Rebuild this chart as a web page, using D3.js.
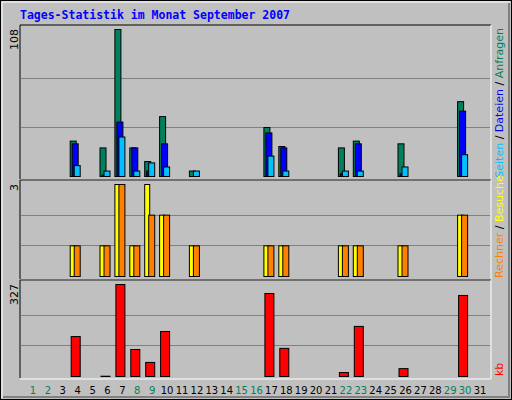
<!DOCTYPE html>
<html><head><meta charset="utf-8">
<script src="https://cdn.jsdelivr.net/npm/d3@7"></script>
<style>body{margin:0;background:#fff}</style>
</head><body>
<script>
// data
var days = d3.range(1, 32);
var weekend = [1, 2, 8, 9, 15, 16, 22, 23, 29, 30];
var anfragen = [0,0,0,26,0,21,108,21,11,44,0,4,0,0,0,0,36,22,0,0,0,21,26,0,0,24,0,0,0,55,0];
var dateien  = [0,0,0,24,0,1,40,21,4,24,0,0,0,0,0,0,32,21,0,0,0,2,24,0,0,2,0,0,0,48,0];
var seiten   = [0,0,0,8,0,4,29,4,10,7,0,4,0,0,0,0,15,4,0,0,0,4,4,0,0,7,0,0,0,16,0];
var besuche  = [0,0,0,1,0,1,3,1,3,2,0,1,0,0,0,0,1,1,0,0,0,1,1,0,0,1,0,0,0,2,0];
var rechner  = [0,0,0,1,0,1,3,1,2,2,0,1,0,0,0,0,1,1,0,0,0,1,1,0,0,1,0,0,0,2,0];
var kb       = [0,0,0,142,0,1,327,96,50,160,0,0,0,0,0,0,295,100,0,0,0,14,178,0,0,28,0,0,0,288,0];

var svg = d3.select("body").append("svg").attr("width", 512).attr("height", 400);
svg.append("rect").attr("x", 0.5).attr("y", 0.5).attr("width", 511).attr("height", 399)
  .attr("fill", "#c0c0c0").attr("stroke", "#000");
svg.append("path").attr("d", "M2,398V2H510").attr("fill", "none").attr("stroke", "#fff");
svg.append("path").attr("d", "M3,397H509V3").attr("fill", "none").attr("stroke", "#808080").attr("stroke-width", 2);

svg.append("text").attr("x", 20).attr("y", 19).text("Tages-Statistik im Monat September 2007")
  .attr("font-family", "DejaVu Sans Mono").attr("font-weight", "bold").attr("font-size", 11.5).attr("fill", "#0000ff");

// day positions (label centre)
var x = d3.scaleLinear().domain([1, 31]).range([33, 480]);

var font = "DejaVu Sans";
function panel(y0, y1, top, maxLabel) {
  svg.append("path").attr("d", "M20," + y1 + "V" + y0 + "H491").attr("fill", "none").attr("stroke", "#000");
  svg.append("path").attr("d", "M20," + (y1 + 1) + "H491V" + y0).attr("fill", "none").attr("stroke", "#fff");
  svg.append("text").attr("transform", "translate(18," + top + ") rotate(-90)")
    .attr("text-anchor", "end").attr("font-family", font).attr("font-size", 11).text(maxLabel);
}

function bars(vals, y, offset, w, color) {
  svg.selectAll(null).data(days.filter(function(d) { return vals[d - 1] > 0; })).enter()
    .append("rect")
    .attr("x", function(d) { return x(d) + offset + 0.5; })
    .attr("y", function(d) { return y(vals[d - 1]) + 0.5; })
    .attr("width", w)
    .attr("height", function(d) { return Math.max(0, y(0) - y(vals[d - 1])); })
    .attr("fill", color).attr("stroke", "#000");
}

function grid(y, max) {
  [1, 2].forEach(function(i) {
    var gy = Math.round(y(max * i / 3)) + 0.5;
    svg.append("line").attr("x1", 21).attr("x2", 490).attr("y1", gy).attr("y2", gy).attr("stroke", "#808080");
  });
}

// top panel
var y1 = d3.scaleLinear().domain([0, 108]).range([176, 29]);
panel(25, 179, 29, "108");
grid(y1, 108);
bars(anfragen, y1, -8, 6, "#00805c");
bars(dateien, y1, -6, 6, "#0000ff");
bars(seiten, y1, -4, 6, "#00c0ff");

// middle panel
var y2 = d3.scaleLinear().domain([0, 3]).range([276, 184]);
panel(180, 279, 184, "3");
grid(y2, 3);
bars(besuche, y2, -8, 5, "#ffff00");
bars(rechner, y2, -4, 6, "#ff8000");

// bottom panel
var y3 = d3.scaleLinear().domain([0, 327]).range([376, 284]);
panel(280, 378, 284, "327");
grid(y3, 327);
bars(kb, y3, -7, 9, "#ff0000");

// day labels
svg.selectAll(null).data(days).enter().append("text")
  .attr("x", function(d) { return x(d); }).attr("y", 394)
  .attr("text-anchor", "middle").attr("font-family", font).attr("font-size", 10)
  .attr("fill", function(d) { return weekend.indexOf(d) >= 0 ? "#00805c" : "#000"; })
  .text(function(d) { return d; });

// right side legends
function legend(yStart, anchor, parts) {
  var t = svg.append("text").attr("transform", "translate(503," + yStart + ") rotate(-90)")
    .attr("text-anchor", anchor).attr("font-family", font).attr("font-size", 11);
  parts.forEach(function(p) { t.append("tspan").attr("fill", p[1]).text(p[0]); });
}
legend(28, "end", [["Seiten", "#00c0ff"], [" / ", "#000"], ["Dateien", "#0000ff"], [" / ", "#000"], ["Anfragen", "#00805c"]]);
legend(278, "start", [["Rechner", "#ff8000"], [" / ", "#000"], ["Besuche", "#ffff00"]]);
legend(376, "start", [["kb", "#ff0000"]]);
</script>
</body></html>
